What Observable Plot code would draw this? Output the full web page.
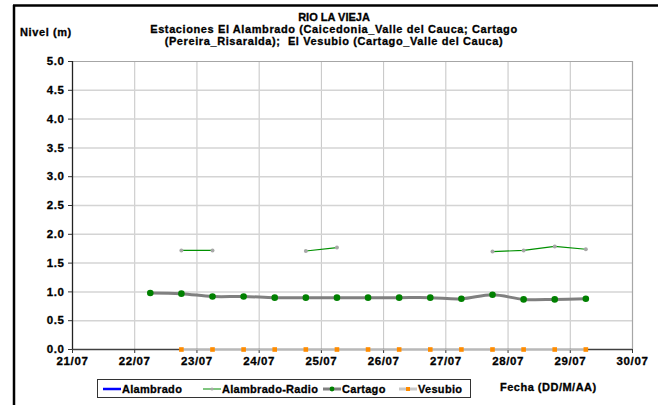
<!DOCTYPE html>
<html>
<head>
<meta charset="utf-8">
<script src="https://cdn.jsdelivr.net/npm/d3@7"></script>
<script src="https://cdn.jsdelivr.net/npm/@observablehq/plot@0.6"></script>
<style>
  html, body { margin: 0; padding: 0; background: #fff; }
  svg { display: block; }
  svg text { stroke: #000; stroke-width: 0.3px; paint-order: stroke; }
</style>
</head>
<body>
<div id="chart"></div>
<script>
// ---- Data ----
const fechas = [
  "2012-07-22T06:00Z", "2012-07-22T18:00Z",
  "2012-07-23T06:00Z", "2012-07-23T18:00Z",
  "2012-07-24T06:00Z", "2012-07-24T18:00Z",
  "2012-07-25T06:00Z", "2012-07-25T18:00Z",
  "2012-07-26T06:00Z", "2012-07-26T18:00Z",
  "2012-07-27T06:00Z", "2012-07-27T18:00Z",
  "2012-07-28T06:00Z", "2012-07-28T18:00Z",
  "2012-07-29T06:00Z"
];
const alambrado      = [null, null, null, null, null, null, null, null, null, null, null, null, null, null, null];
const alambradoRadio = [null, 1.72, 1.72, null, null, 1.71, 1.77, null, null, null, null, 1.70, 1.72, 1.79, 1.74];
const cartago        = [0.98, 0.97, 0.92, 0.92, 0.90, 0.90, 0.90, 0.90, 0.90, 0.90, 0.88, 0.95, 0.87, 0.87, 0.88];
const vesubio        = [null, 0, 0, 0, 0, 0, 0, 0, 0, 0, 0, 0, 0, 0, 0];
const yTicks = [0, 0.5, 1, 1.5, 2, 2.5, 3, 3.5, 4, 4.5, 5];
const xDomain = ["2012-07-21T00:00Z", "2012-07-30T00:00Z"];
const seriesNames = ["Alambrado", "Alambrado-Radio", "Cartago", "Vesubio"];

// ---- Build table ----
const rows = fechas.map((f, i) => ({
  fecha: new Date(f),
  alambrado: alambrado[i],
  radio: alambradoRadio[i],
  cartago: cartago[i],
  vesubio: vesubio[i]
}));
const xd = xDomain.map(d => new Date(d));
const dayTicks = d3.utcDay.range(xd[0], d3.utcDay.offset(xd[1], 1));

const W = 658, H = 405;
const font = "Liberation Sans, Arial, sans-serif";

const chart = Plot.plot({
  width: W,
  height: H,
  marginLeft: 72,
  marginRight: 26,
  marginTop: 61,
  marginBottom: 56,
  style: { fontFamily: font, fontSize: "11px", fontWeight: "bold", color: "#000", background: "#fff" },
  x: { type: "utc", domain: xd },
  y: { domain: [0, 5] },
  marks: [
    // grid
    Plot.ruleX(dayTicks.slice(1, -1), { stroke: "#c4c4c4", strokeWidth: 1 }),
    Plot.ruleY(yTicks.slice(1, -1), { stroke: "#d4d4d4", strokeWidth: 1.5 }),
    // frame top & right
    Plot.ruleY([5], { stroke: "#a6a6a6", strokeWidth: 1.2 }),
    Plot.ruleX([xd[1]], { stroke: "#a6a6a6", strokeWidth: 1.2 }),
    // axes
    Plot.axisX({ ticks: dayTicks, tickFormat: d3.utcFormat("%d/%m"), tickSize: 4, tickPadding: 3, label: null, stroke: "#333", fontWeight: "bold", fontSize: 11.5 }),
    Plot.axisY({ ticks: yTicks, tickFormat: d => d.toFixed(1), tickSize: 4, tickPadding: 4, label: null, stroke: "#333", fontWeight: "bold", fontSize: 11.5 }),
    Plot.ruleY([0], { stroke: "#404040", strokeWidth: 1.3 }),
    Plot.ruleX([xd[0]], { stroke: "#222", strokeWidth: 1.3 }),
    // Alambrado (no data)
    Plot.line(rows, { x: "fecha", y: "alambrado", stroke: "#0000ff", strokeWidth: 2.5 }),
    // Vesubio
    Plot.line(rows, { x: "fecha", y: "vesubio", stroke: "#b8b8b8", strokeWidth: 1.5 }),
    Plot.dot(rows, { x: "fecha", y: "vesubio", symbol: "square", r: 2.6, fill: "#ff8c00", stroke: "none" }),
    // Cartago
    Plot.line(rows, { x: "fecha", y: "cartago", stroke: "#808080", strokeWidth: 3, curve: "catmull-rom" }),
    Plot.dot(rows, { x: "fecha", y: "cartago", r: 3.3, fill: "#008000", stroke: "none" }),
    // Alambrado-Radio
    Plot.line(rows, { x: "fecha", y: "radio", stroke: "#009000", strokeWidth: 1.2 }),
    Plot.dot(rows, { x: "fecha", y: "radio", r: 2, fill: "#a8a8a8", stroke: "none" })
  ]
});

const svg = d3.select(chart);
svg.attr("font-weight", "bold");
svg.selectAll("g[aria-label='x-axis tick label'] text, g[aria-label='y-axis tick label'] text").style("letter-spacing", "0.6px");

// outer border (left and top)
svg.append("line").attr("x1", 14).attr("x2", 14).attr("y1", 5).attr("y2", H).attr("stroke", "#000").attr("stroke-width", 2.5);
svg.append("line").attr("x1", 13).attr("x2", W).attr("y1", 5.5).attr("y2", 5.5).attr("stroke", "#000").attr("stroke-width", 2.5);

// titles
const tg = svg.append("g").attr("font-family", font).attr("font-weight", "bold").attr("font-size", 11).attr("fill", "#000").attr("text-anchor", "start");
tg.append("text").attr("x", 334).attr("y", 21).attr("text-anchor", "middle").text("RIO LA VIEJA");
tg.append("text").attr("x", 334).attr("y", 33).attr("text-anchor", "middle").style("letter-spacing", "0.6px").text("Estaciones El Alambrado (Caicedonia_Valle del Cauca; Cartago");
tg.append("text").attr("x", 334).attr("y", 45).attr("text-anchor", "middle").style("letter-spacing", "0.6px").text("(Pereira_Risaralda);  El Vesubio (Cartago_Valle del Cauca)");
tg.append("text").attr("x", 20).attr("y", 36).attr("text-anchor", "start").style("letter-spacing", "0.6px").text("Nivel (m)");
tg.append("text").attr("x", 500).attr("y", 391).attr("text-anchor", "start").style("letter-spacing", "0.5px").text("Fecha (DD/M/AA)");

// legend
const lg = svg.append("g").attr("font-family", font).attr("font-weight", "bold").attr("font-size", 11).attr("text-anchor", "start");
lg.append("rect").attr("x", 97.5).attr("y", 379.5).attr("width", 373).attr("height", 18).attr("fill", "#fff").attr("stroke", "#333").attr("stroke-width", 1);
const items = [
  { name: seriesNames[0], x: 103, line: "#0000ff", lw: 2.5, dot: null },
  { name: seriesNames[1], x: 203, line: "#2ca02c", lw: 1.2, dot: { fill: "#a8a8a8", r: 1.6, sq: false } },
  { name: seriesNames[2], x: 323, line: "#808080", lw: 3, dot: { fill: "#008000", r: 2.4, sq: false } },
  { name: seriesNames[3], x: 399, line: "#c8c8c8", lw: 3, dot: { fill: "#ff8c00", r: 2, sq: true } }
];
const ly = 389;
items.forEach(it => {
  lg.append("line").attr("x1", it.x).attr("x2", it.x + 18).attr("y1", ly).attr("y2", ly).attr("stroke", it.line).attr("stroke-width", it.lw);
  if (it.dot) {
    if (it.dot.sq) lg.append("rect").attr("x", it.x + 9 - it.dot.r).attr("y", ly - it.dot.r).attr("width", 2 * it.dot.r).attr("height", 2 * it.dot.r).attr("fill", it.dot.fill);
    else lg.append("circle").attr("cx", it.x + 9).attr("cy", ly).attr("r", it.dot.r).attr("fill", it.dot.fill);
  }
  lg.append("text").attr("x", it.x + 19).attr("y", ly + 4).attr("fill", "#000").style("letter-spacing", "0.3px").text(it.name);
});

document.getElementById("chart").appendChild(chart);
</script>
</body>
</html>
